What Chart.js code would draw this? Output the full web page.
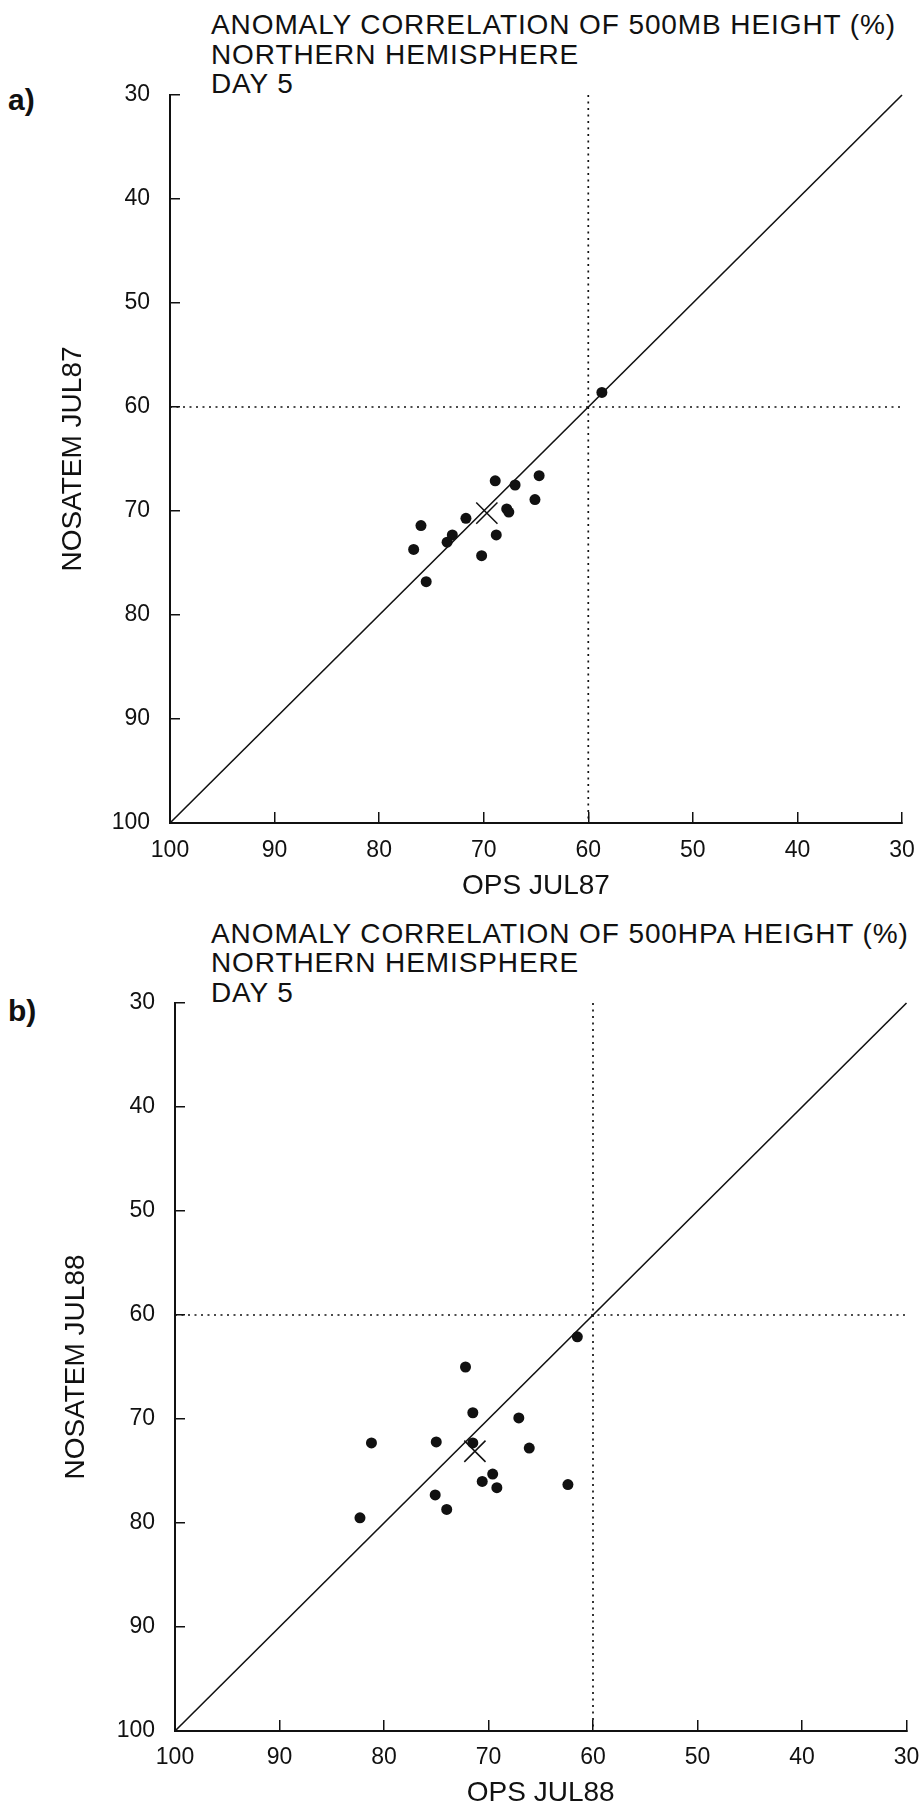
<!DOCTYPE html>
<html>
<head>
<meta charset="utf-8">
<script src="https://cdn.jsdelivr.net/npm/chart.js@4.4.0/dist/chart.umd.min.js"></script>
<style>
html,body{margin:0;padding:0;background:#fff;}
body{width:923px;height:1807px;position:relative;overflow:hidden;font-family:"Liberation Sans",Arial,sans-serif;color:#111;}
.title{position:absolute;left:211px;font-size:28px;line-height:29.5px;letter-spacing:0.9px;white-space:nowrap;}
.plabel{position:absolute;left:8px;font-weight:bold;font-size:30px;line-height:32px;}
canvas{position:absolute;left:0;}
</style>
</head>
<body>
<div class="title" style="top:10px">ANOMALY CORRELATION OF 500MB HEIGHT (%)<br>NORTHERN HEMISPHERE<br>DAY 5</div>
<div class="plabel" style="top:84px">a)</div>
<div class="title" style="top:918.5px">ANOMALY CORRELATION OF 500HPA HEIGHT (%)<br>NORTHERN HEMISPHERE<br>DAY 5</div>
<div class="plabel" style="top:995px">b)</div>
<canvas id="chartA" width="923" height="903" style="top:0px"></canvas>
<canvas id="chartB" width="923" height="904" style="top:903px"></canvas>
<script>
// ---- data ----
const xTickValues = [100, 90, 80, 70, 60, 50, 40, 30];
const yTickValues = [30, 40, 50, 60, 70, 80, 90, 100];
const diagonalEnds = [100, 30];
const refLevel = 60;

// Panel a) July 1987
const opsJul87     = [58.7, 64.7, 65.1, 68.9, 67.0, 67.8, 67.6, 68.8, 70.2, 71.7, 73.0, 73.5, 76.0, 76.7, 75.5];
const nosatemJul87 = [58.6, 66.6, 68.9, 67.1, 67.5, 69.8, 70.1, 72.3, 74.3, 70.7, 72.3, 73.0, 71.4, 73.7, 76.8];
const meanJul87    = [69.7, 70.2];

// Panel b) July 1988
const opsJul88     = [61.5, 72.2, 71.5, 67.1, 81.2, 75.0, 71.5, 66.1, 69.6, 70.6, 69.2, 62.4, 75.1, 74.0, 82.3];
const nosatemJul88 = [62.1, 65.0, 69.4, 69.9, 72.3, 72.2, 72.3, 72.8, 75.3, 76.0, 76.6, 76.3, 77.3, 78.7, 79.5];
const meanJul88    = [71.3, 73.1];

const FONT = '"Liberation Sans", Arial, sans-serif';
const INK = '#111';

function makePanel(id, xs, ys, mean, xTitle, yTitle, L) {
  const pts = xs.map((x, i) => ({x: x, y: ys[i]}));
  const lineDs = (data, dash, w) => ({
    data: data, showLine: true, pointRadius: 0, borderColor: INK, borderWidth: w,
    borderDash: dash, fill: false, clip: false
  });
  new Chart(document.getElementById(id), {
    type: 'scatter',
    data: {
      datasets: [
        {data: pts, pointRadius: 5.5, backgroundColor: INK, borderColor: INK, borderWidth: 0},
        {data: [{x: mean[0], y: mean[1]}], pointStyle: 'crossRot', pointRadius: 15,
         borderColor: INK, backgroundColor: INK, borderWidth: 1.5},
        lineDs(diagonalEnds.map(v => ({x: v, y: v})), [], 1.6),
        lineDs([{x: refLevel, y: yTickValues[0]}, {x: refLevel, y: yTickValues[yTickValues.length - 1]}], [2, 4.5], 1.7),
        lineDs([{x: xTickValues[0], y: refLevel}, {x: xTickValues[xTickValues.length - 1], y: refLevel}], [2, 4.5], 1.7)
      ]
    },
    options: {
      responsive: false, animation: false, events: [],
      layout: {padding: {top: L.top, right: L.right, left: 0, bottom: 0}},
      plugins: {legend: {display: false}, tooltip: {enabled: false}, title: {display: false}},
      scales: {
        x: {
          type: 'linear', min: 30, max: 100, reverse: true,
          afterBuildTicks: s => { s.ticks = xTickValues.map(v => ({value: v})); },
          afterFit: s => { s.height = L.xh; s.paddingLeft = 0; s.paddingRight = 0; },
          grid: {drawOnChartArea: false, drawTicks: true, tickLength: -11, color: INK, lineWidth: 1.5},
          border: {display: true, color: INK, width: 2},
          ticks: {padding: L.xpad, autoSkip: false, maxRotation: 0, color: INK, font: {family: FONT, size: 23}},
          title: {display: true, text: xTitle, color: INK, font: {family: FONT, size: 28, lineHeight: 1},
                  padding: {top: 0, bottom: L.xtb}}
        },
        y: {
          type: 'linear', min: 30, max: 100, reverse: true,
          afterBuildTicks: s => { s.ticks = yTickValues.map(v => ({value: v})); },
          afterFit: s => { s.width = L.left; s.paddingTop = 0; s.paddingBottom = 0; },
          grid: {drawOnChartArea: false, drawTicks: true, tickLength: -10, color: INK, lineWidth: 1.5},
          border: {display: true, color: INK, width: 2},
          ticks: {padding: 30, autoSkip: false, color: INK, font: {family: FONT, size: 23}},
          title: {display: true, text: yTitle, color: INK, font: {family: FONT, size: 28, lineHeight: 1},
                  padding: {top: L.ytp, bottom: 0}}
        }
      }
    }
  });
}

makePanel('chartA', opsJul87, nosatemJul87, meanJul87, 'OPS JUL87', 'NOSATEM JUL87',
  {top: 95, right: 21, left: 170, xh: 80, xpad: 25, xtb: 3, ytp: 59});
makePanel('chartB', opsJul88, nosatemJul88, meanJul88, 'OPS JUL88', 'NOSATEM JUL88',
  {top: 100, right: 16, left: 175, xh: 76, xpad: 23.5, xtb: 0, ytp: 62});
</script>
</body>
</html>
